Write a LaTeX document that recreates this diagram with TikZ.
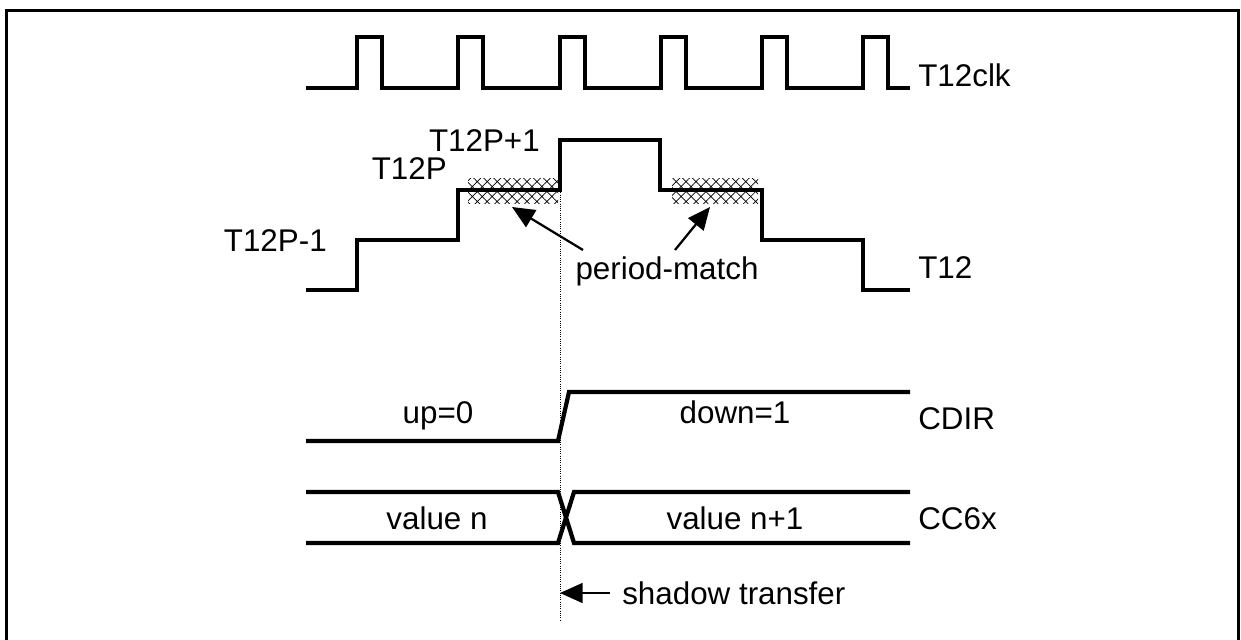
\documentclass[tikz,border=0pt]{standalone}
\usepackage{fontspec}
\setmainfont{Liberation Sans}
\usetikzlibrary{patterns.meta}
\usetikzlibrary{arrows.meta}

\tikzset{
  wave/.style={line width=3pt},
  lbl/.style={font=\fontsize{22.3}{26}\selectfont, inner sep=0pt},
  hatchbox/.style={pattern={Hatch[angle=45,distance=5pt,line width=0.5pt]}},
  ptr/.style={line width=1.6pt, -{Triangle[length=16pt,width=14pt]}}
}

\begin{document}
\begin{tikzpicture}[x=0.025cm, y=-0.025cm]
\useasboundingbox (0,0) rectangle (1241,639);
\draw[line width=2.1pt] (6.5,650) -- (6.5,10.5) -- (1238.5,10.5) -- (1238.5,650);

% period-match windows
\fill[hatchbox] (468,178) rectangle (558,203);
\fill[hatchbox] (672,178) rectangle (758,203);

% T12clk
\draw[wave] (306,88) \foreach \x in {357,458,560,661,762,863}{ -- (\x,88) -- (\x,37) -- (\x+25,37) -- (\x+25,88) } -- (910,88);
\node[lbl, anchor=base west] (clk) at (918,86) {T12clk};

% T12
\draw[wave] (306,290) -| (357,240) -| (458,190) -| (560,140) -| (660,190) -| (762,240) -| (863,290) -- (910,290);
\node[lbl, anchor=base east] (pm1) at (327,251) {T12P-1};
\node[lbl, anchor=base east] (p) at (447,179) {T12P};
\node[lbl, anchor=base east] (pp1) at (540,151) {T12P+1};
\node[lbl, anchor=base west] (cnt) at (918,278) {T12};

\node[lbl, anchor=base] (pm) at (667,279) {period-match};
\coordinate (pmL) at (512,207);
\coordinate (pmR) at (710,207);
\coordinate (tailL) at (583,250);
\coordinate (tailR) at (675,250);
\draw[ptr] (tailL) -- (pmL);
\draw[ptr] (tailR) -- (pmR);

% CDIR
\draw[wave] (306,441) -- (558,441) -- (569,392) -- (910,392);
\node[lbl, anchor=base] (up) at (438,423) {up=0};
\node[lbl, anchor=base] (down) at (735,423) {down=1};
\node[lbl, anchor=base west] (cdir) at (918,429) {CDIR};

% CC6x
\draw[wave] (306,492) -- (558,492) -- (574,543) -- (910,543);
\draw[wave] (306,543) -- (558,543) -- (574,492) -- (910,492);
\node[lbl, anchor=base] (vn) at (437,529) {value n};
\node[lbl, anchor=base] (vn1) at (735,529) {value n+1};
\node[lbl, anchor=base west] (cc) at (918,529) {CC6x};

% shadow transfer
\coordinate (st) at (560,190);
\coordinate (sb) at (560,620);
\draw[line width=0.6pt, densely dotted] (st) -- (sb);
\node[lbl, anchor=base west] (shadow) at (622,604) {shadow transfer};
\coordinate (stip) at (560,593);
\coordinate (stail) at (610,593);
\draw[ptr] (stail) -- (stip);
\end{tikzpicture}
\end{document}
